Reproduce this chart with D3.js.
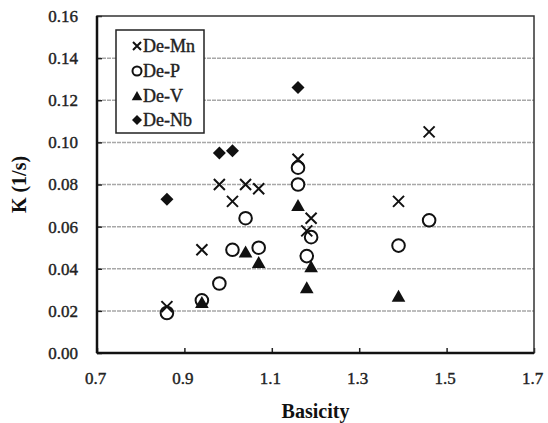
<!DOCTYPE html>
<html>
<head>
<meta charset="utf-8">
<script src="https://cdn.jsdelivr.net/npm/d3@7"></script>
<style>
  html, body { margin: 0; padding: 0; background: #fff; }
  svg { display: block; }
</style>
</head>
<body>
<svg id="chart" width="548" height="423"></svg>
<script>
// Rate constant K versus slag basicity for four refining reactions
const deMn = [[0.86,0.022],[0.94,0.049],[0.98,0.080],[1.01,0.072],[1.04,0.080],[1.07,0.078],
              [1.16,0.092],[1.18,0.058],[1.19,0.064],[1.39,0.072],[1.46,0.105]];
const deP  = [[0.86,0.019],[0.94,0.025],[0.98,0.033],[1.01,0.049],[1.04,0.064],[1.07,0.050],
              [1.16,0.088],[1.16,0.080],[1.19,0.055],[1.18,0.046],[1.39,0.051],[1.46,0.063]];
const deV  = [[0.94,0.024],[1.04,0.048],[1.07,0.043],[1.16,0.070],[1.19,0.041],[1.18,0.031],[1.39,0.027]];
const deNb = [[0.86,0.073],[0.98,0.095],[1.01,0.096],[1.16,0.126]];

const seriesNames = ["De-Mn", "De-P", "De-V", "De-Nb"];
const xTicks = [0.7, 0.9, 1.1, 1.3, 1.5, 1.7];
const yTicks = [0.00, 0.02, 0.04, 0.06, 0.08, 0.10, 0.12, 0.14, 0.16];

const svg = d3.select("#chart");
const plotL = 97, plotR = 534, plotT = 16, plotB = 353;

const x = d3.scaleLinear().domain([0.7, 1.7]).range([plotL, plotR]);
const y = d3.scaleLinear().domain([0, 0.16]).range([plotB, plotT]);

const serif = "'Liberation Serif', 'Times New Roman', serif";

// horizontal gridlines
svg.append("g").selectAll("line")
  .data(yTicks.filter(v => v > 0 && v < 0.16))
  .join("line")
  .attr("x1", plotL).attr("x2", plotR)
  .attr("y1", d => y(d)).attr("y2", d => y(d))
  .attr("stroke", "#a8a8a8").attr("stroke-width", 1.5)
  .attr("stroke-dasharray", "4,1");

// y axis with inward ticks
const yAxis = svg.append("g")
  .attr("transform", `translate(${plotL},0)`)
  .call(d3.axisRight(y).tickValues(yTicks).tickSize(5).tickFormat(""));
yAxis.select(".domain").remove();
yAxis.selectAll("line").attr("stroke", "#222").attr("stroke-width", 1.5);

svg.append("g").selectAll("text")
  .data(yTicks).join("text")
  .attr("x", 78).attr("y", d => y(d))
  .attr("dy", "0.35em")
  .attr("text-anchor", "end")
  .attr("font-family", serif).attr("font-size", 17)
  .attr("fill", "#222").attr("stroke", "#222").attr("stroke-width", 0.4)
  .text(d => d3.format(".2f")(d));

// x axis with inward ticks
const xAxis = svg.append("g")
  .attr("transform", `translate(0,${plotB})`)
  .call(d3.axisTop(x).tickValues(xTicks).tickSize(5).tickFormat(""));
xAxis.select(".domain").remove();
xAxis.selectAll("line").attr("stroke", "#222").attr("stroke-width", 1.5);

svg.append("g").selectAll("text")
  .data(xTicks).join("text")
  .attr("x", d => x(d) - 1.5).attr("y", 384)
  .attr("text-anchor", "middle")
  .attr("font-family", serif).attr("font-size", 17)
  .attr("fill", "#222").attr("stroke", "#222").attr("stroke-width", 0.4)
  .text(d => d3.format(".1f")(d));

// plot frame
svg.append("rect")
  .attr("x", plotL).attr("y", plotT)
  .attr("width", plotR - plotL).attr("height", plotB - plotT)
  .attr("fill", "none").attr("stroke", "#333").attr("stroke-width", 1.5);
svg.append("line").attr("x1", plotL).attr("x2", plotL).attr("y1", plotT).attr("y2", plotB)
  .attr("stroke", "#111").attr("stroke-width", 2.5);
svg.append("line").attr("x1", plotL).attr("x2", plotR).attr("y1", plotB).attr("y2", plotB)
  .attr("stroke", "#111").attr("stroke-width", 2.5);

// axis titles
svg.append("text")
  .attr("transform", `translate(26,${(plotT + plotB) / 2}) rotate(-90)`)
  .attr("text-anchor", "middle")
  .attr("font-family", serif).attr("font-weight", "bold").attr("font-size", 20)
  .attr("fill", "#111")
  .text("K (1/s)");
svg.append("text")
  .attr("x", (plotL + plotR) / 2).attr("y", 418)
  .attr("text-anchor", "middle")
  .attr("font-family", serif).attr("font-weight", "bold").attr("font-size", 20)
  .attr("fill", "#111")
  .text("Basicity");

// marker painters
const cross = (g, s) => g.append("path")
  .attr("d", `M${-s},${-s}L${s},${s}M${-s},${s}L${s},${-s}`)
  .attr("stroke", "#111").attr("stroke-width", 2).attr("fill", "none");
const ring = (g, r) => g.append("circle").attr("r", r)
  .attr("fill", "#fff").attr("stroke", "#111").attr("stroke-width", 2);
const tri = (g, s) => g.append("path")
  .attr("d", `M0,${-s}L${s * 1.05},${s * 0.85}L${-s * 1.05},${s * 0.85}Z`)
  .attr("fill", "#111");
const diamond = (g, s) => g.append("path")
  .attr("d", `M0,${-s}L${s},0L0,${s}L${-s},0Z`)
  .attr("fill", "#111");

const painters = [g => cross(g, 5.5), g => ring(g, 6.3), g => tri(g, 6.5), g => diamond(g, 6.5)];
const seriesData = [deMn, deP, deV, deNb];

// draw order: circles, triangles, crosses, diamonds
[1, 2, 0, 3].forEach(i => {
  svg.append("g").selectAll("g")
    .data(seriesData[i]).join("g")
    .attr("transform", d => `translate(${x(d[0])},${y(d[1])})`)
    .each(function () { painters[i](d3.select(this)); });
});

// legend
const lg = svg.append("g");
lg.append("rect")
  .attr("x", 116).attr("y", 30).attr("width", 88).attr("height", 103)
  .attr("fill", "#fff").attr("stroke", "#222").attr("stroke-width", 1.5);
const legendY = [46, 71, 96, 120];
const legendMarks = [g => cross(g, 4), g => ring(g, 4.5), g => tri(g, 5), g => diamond(g, 5)];
seriesNames.forEach((name, i) => {
  const g = lg.append("g").attr("transform", `translate(137,${legendY[i]})`);
  legendMarks[i](g);
  lg.append("text")
    .attr("x", 143).attr("y", legendY[i])
    .attr("dy", "0.35em")
    .attr("font-family", serif).attr("font-size", 18)
    .attr("fill", "#222").attr("stroke", "#222").attr("stroke-width", 0.4)
    .text(name);
});
</script>
</body>
</html>
